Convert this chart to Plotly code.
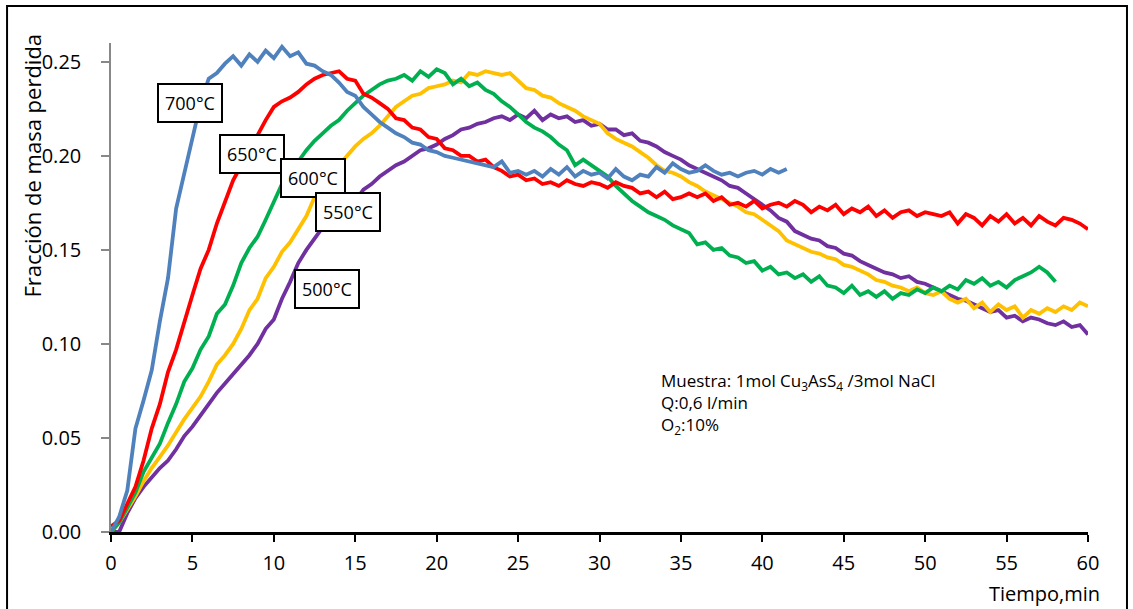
import numpy as np
import plotly.graph_objects as go

# Time grid of the recorded readings (min), one reading every half minute
tiempo = np.arange(0, 60.01, 0.5)

# Fraction of mass lost at each temperature
perdida_700 = [
    0.000, 0.008, 0.022, 0.055, 0.070, 0.086, 0.112, 0.135, 0.172, 0.190,
    0.208, 0.228, 0.241, 0.244, 0.249, 0.253, 0.248, 0.254, 0.250, 0.256,
    0.252, 0.258, 0.253, 0.255, 0.249, 0.248, 0.245, 0.243, 0.239, 0.234,
    0.232, 0.226, 0.222, 0.218, 0.215, 0.212, 0.210, 0.207, 0.206, 0.203,
    0.202, 0.200, 0.199, 0.198, 0.197, 0.196, 0.195, 0.194, 0.197, 0.191,
    0.192, 0.190, 0.192, 0.189, 0.193, 0.190, 0.194, 0.189, 0.192, 0.190,
    0.191, 0.188, 0.193, 0.189, 0.187, 0.190, 0.189, 0.194, 0.191, 0.196,
    0.193, 0.191, 0.192, 0.195, 0.192, 0.190, 0.191, 0.189, 0.191, 0.192,
    0.190, 0.193, 0.191, 0.193,
]
perdida_650 = [
    0.003, 0.006, 0.015, 0.024, 0.038, 0.055, 0.068, 0.085, 0.097, 0.112,
    0.126, 0.140, 0.150, 0.164, 0.175, 0.187, 0.195, 0.203, 0.212, 0.219,
    0.226, 0.229, 0.231, 0.234, 0.238, 0.241, 0.243, 0.244, 0.245, 0.241,
    0.240, 0.233, 0.231, 0.228, 0.225, 0.220, 0.219, 0.215, 0.214, 0.210,
    0.209, 0.204, 0.203, 0.200, 0.200, 0.197, 0.198, 0.194, 0.192, 0.189,
    0.190, 0.187, 0.188, 0.185, 0.186, 0.184, 0.187, 0.185, 0.184, 0.186,
    0.185, 0.183, 0.186, 0.184, 0.183, 0.180, 0.181, 0.178, 0.181, 0.177,
    0.178, 0.180, 0.178, 0.180, 0.176, 0.178, 0.174, 0.175, 0.173, 0.176,
    0.172, 0.174, 0.175, 0.173, 0.176, 0.174, 0.170, 0.173, 0.171, 0.174,
    0.169, 0.172, 0.170, 0.173, 0.168, 0.171, 0.167, 0.170, 0.171, 0.168,
    0.170, 0.169, 0.168, 0.170, 0.164, 0.169, 0.167, 0.163, 0.168, 0.165,
    0.169, 0.164, 0.167, 0.163, 0.168, 0.165, 0.163, 0.167, 0.166, 0.164,
    0.161,
]
perdida_600 = [
    0.000, 0.005, 0.013, 0.021, 0.032, 0.040, 0.047, 0.058, 0.068, 0.080,
    0.087, 0.097, 0.104, 0.116, 0.121, 0.131, 0.143, 0.151, 0.157, 0.166,
    0.176, 0.185, 0.190, 0.197, 0.203, 0.208, 0.212, 0.216, 0.219, 0.224,
    0.228, 0.232, 0.235, 0.238, 0.240, 0.241, 0.243, 0.240, 0.245, 0.242,
    0.246, 0.244, 0.238, 0.241, 0.237, 0.239, 0.235, 0.233, 0.229, 0.226,
    0.222, 0.218, 0.215, 0.213, 0.210, 0.206, 0.203, 0.195, 0.198, 0.195,
    0.192, 0.189, 0.184, 0.180, 0.176, 0.173, 0.170, 0.168, 0.166, 0.163,
    0.161, 0.159, 0.153, 0.154, 0.150, 0.151, 0.147, 0.146, 0.143, 0.144,
    0.139, 0.141, 0.137, 0.138, 0.135, 0.137, 0.133, 0.136, 0.131, 0.130,
    0.127, 0.131, 0.126, 0.128, 0.125, 0.128, 0.124, 0.127, 0.126, 0.129,
    0.127, 0.130, 0.128, 0.131, 0.129, 0.134, 0.132, 0.135, 0.131, 0.133,
    0.130, 0.134, 0.136, 0.138, 0.141, 0.138, 0.133,
]
perdida_550 = [
    0.000, 0.005, 0.012, 0.019, 0.027, 0.034, 0.040, 0.046, 0.053, 0.060,
    0.066, 0.072, 0.080, 0.089, 0.094, 0.100, 0.108, 0.118, 0.124, 0.135,
    0.141, 0.149, 0.154, 0.161, 0.168, 0.178, 0.183, 0.191, 0.195, 0.200,
    0.205, 0.209, 0.212, 0.216, 0.221, 0.226, 0.229, 0.232, 0.233, 0.236,
    0.237, 0.238, 0.240, 0.239, 0.244, 0.243, 0.245, 0.244, 0.243, 0.244,
    0.240, 0.236, 0.235, 0.232, 0.231, 0.228, 0.226, 0.224, 0.221, 0.219,
    0.217, 0.212, 0.209, 0.207, 0.205, 0.202, 0.199, 0.195, 0.192, 0.191,
    0.189, 0.186, 0.184, 0.181, 0.179, 0.177, 0.175, 0.173, 0.170, 0.169,
    0.166, 0.163, 0.160, 0.155, 0.153, 0.151, 0.149, 0.148, 0.146, 0.145,
    0.142, 0.141, 0.139, 0.137, 0.134, 0.133, 0.131, 0.130, 0.128, 0.130,
    0.127, 0.126, 0.128, 0.124, 0.122, 0.124, 0.119, 0.122, 0.117, 0.121,
    0.118, 0.120, 0.114, 0.118, 0.116, 0.119, 0.117, 0.120, 0.118, 0.122,
    0.120,
]
perdida_500 = [
    0.000, 0.000, 0.010, 0.018, 0.024, 0.029, 0.034, 0.038, 0.044, 0.051,
    0.056, 0.062, 0.068, 0.074, 0.079, 0.084, 0.089, 0.094, 0.100, 0.108,
    0.113, 0.124, 0.133, 0.143, 0.150, 0.156, 0.162, 0.165, 0.168, 0.172,
    0.176, 0.182, 0.185, 0.189, 0.192, 0.195, 0.197, 0.200, 0.203, 0.204,
    0.206, 0.209, 0.211, 0.214, 0.215, 0.217, 0.218, 0.220, 0.221, 0.219,
    0.222, 0.220, 0.224, 0.219, 0.222, 0.220, 0.221, 0.218, 0.219, 0.216,
    0.217, 0.214, 0.214, 0.211, 0.212, 0.208, 0.207, 0.205, 0.202, 0.200,
    0.198, 0.195, 0.193, 0.191, 0.189, 0.187, 0.184, 0.183, 0.180, 0.177,
    0.174, 0.171, 0.167, 0.165, 0.160, 0.158, 0.156, 0.155, 0.152, 0.151,
    0.148, 0.147, 0.144, 0.142, 0.140, 0.138, 0.137, 0.135, 0.136, 0.133,
    0.132, 0.130, 0.128, 0.126, 0.124, 0.123, 0.121, 0.119, 0.117, 0.118,
    0.114, 0.115, 0.112, 0.114, 0.113, 0.111, 0.110, 0.112, 0.109, 0.110,
    0.105,
]

series = [
    ("500°C", perdida_500, "#7030A0"),
    ("550°C", perdida_550, "#FFC000"),
    ("600°C", perdida_600, "#00B050"),
    ("650°C", perdida_650, "#FF0000"),
    ("700°C", perdida_700, "#4F81BD"),
]

# Label boxes beside each curve: (text, x in min, y in mass fraction)
etiquetas = [
    ("700°C", 4.84, 0.228),
    ("650°C", 8.64, 0.201),
    ("600°C", 12.43, 0.188),
    ("550°C", 14.57, 0.170),
    ("500°C", 13.29, 0.129),
]

FONT = "Open Sans"

fig = go.Figure()
for nombre, valores, color in series:
    fig.add_trace(go.Scatter(
        x=tiempo[:len(valores)], y=valores, mode="lines", name=nombre,
        line=dict(color=color, width=3.8), showlegend=False,
    ))

annotations = []
for texto, xv, yv in etiquetas:
    annotations.append(dict(
        x=xv, y=yv, xref="x", yref="y", xanchor="center", yanchor="middle",
        text=texto, showarrow=False,
        font=dict(family=FONT, size=18, color="black"),
        bgcolor="white", bordercolor="black", borderwidth=2, borderpad=6,
    ))

# Sample conditions block
annotations.append(dict(
    x=0.561, y=0.262, xref="paper", yref="paper", xanchor="left", yanchor="middle",
    align="left", showarrow=False,
    text=("Muestra: 1mol Cu<sub>3</sub>AsS<sub>4</sub> /3mol NaCl<br>"
          "Q:0,6 l/min<br>O<sub>2</sub>:10%"),
    font=dict(family=FONT, size=17, color="black"),
))

# Axis titles
annotations.append(dict(
    x=-0.081, y=0.749, xref="paper", yref="paper", xanchor="center", yanchor="middle",
    textangle=-90, text="Fracción de masa perdida", showarrow=False,
    font=dict(family=FONT, size=22, color="black"),
))
annotations.append(dict(
    x=0.955, y=-0.126, xref="paper", yref="paper", xanchor="center", yanchor="middle",
    text="Tiempo,min", showarrow=False,
    font=dict(family=FONT, size=20, color="black"),
))

fig.update_layout(
    width=1133, height=609,
    margin=dict(l=111, r=45, t=43, b=77),
    paper_bgcolor="white", plot_bgcolor="white",
    annotations=annotations,
    shapes=[dict(
        type="rect", xref="paper", yref="paper",
        x0=-0.1064, x1=1.0399, y0=-0.17, y1=1.0757,
        line=dict(color="black", width=2), fillcolor="rgba(0,0,0,0)", layer="below",
    )],
)

fig.update_xaxes(
    range=[0, 60], tickmode="array", tickvals=list(range(0, 61, 5)),
    showgrid=False, zeroline=False, showline=True, linecolor="black", linewidth=3,
    ticks="outside", ticklen=7, tickwidth=2, tickcolor="black",
    ticklabelstandoff=4,
    tickfont=dict(family=FONT, size=20, color="black"),
)
fig.update_yaxes(
    range=[0, 0.26], tickmode="array",
    tickvals=[0, 0.05, 0.10, 0.15, 0.20, 0.25],
    ticktext=["0.00", "0.05", "0.10", "0.15", "0.20", "0.25"],
    showgrid=False, zeroline=False, showline=True, linecolor="#888888", linewidth=1.5,
    ticks="outside", ticklen=8, tickwidth=1.5, tickcolor="#888888",
    ticklabelstandoff=16,
    tickfont=dict(family=FONT, size=20, color="black"),
)

fig.write_html("out.html")
